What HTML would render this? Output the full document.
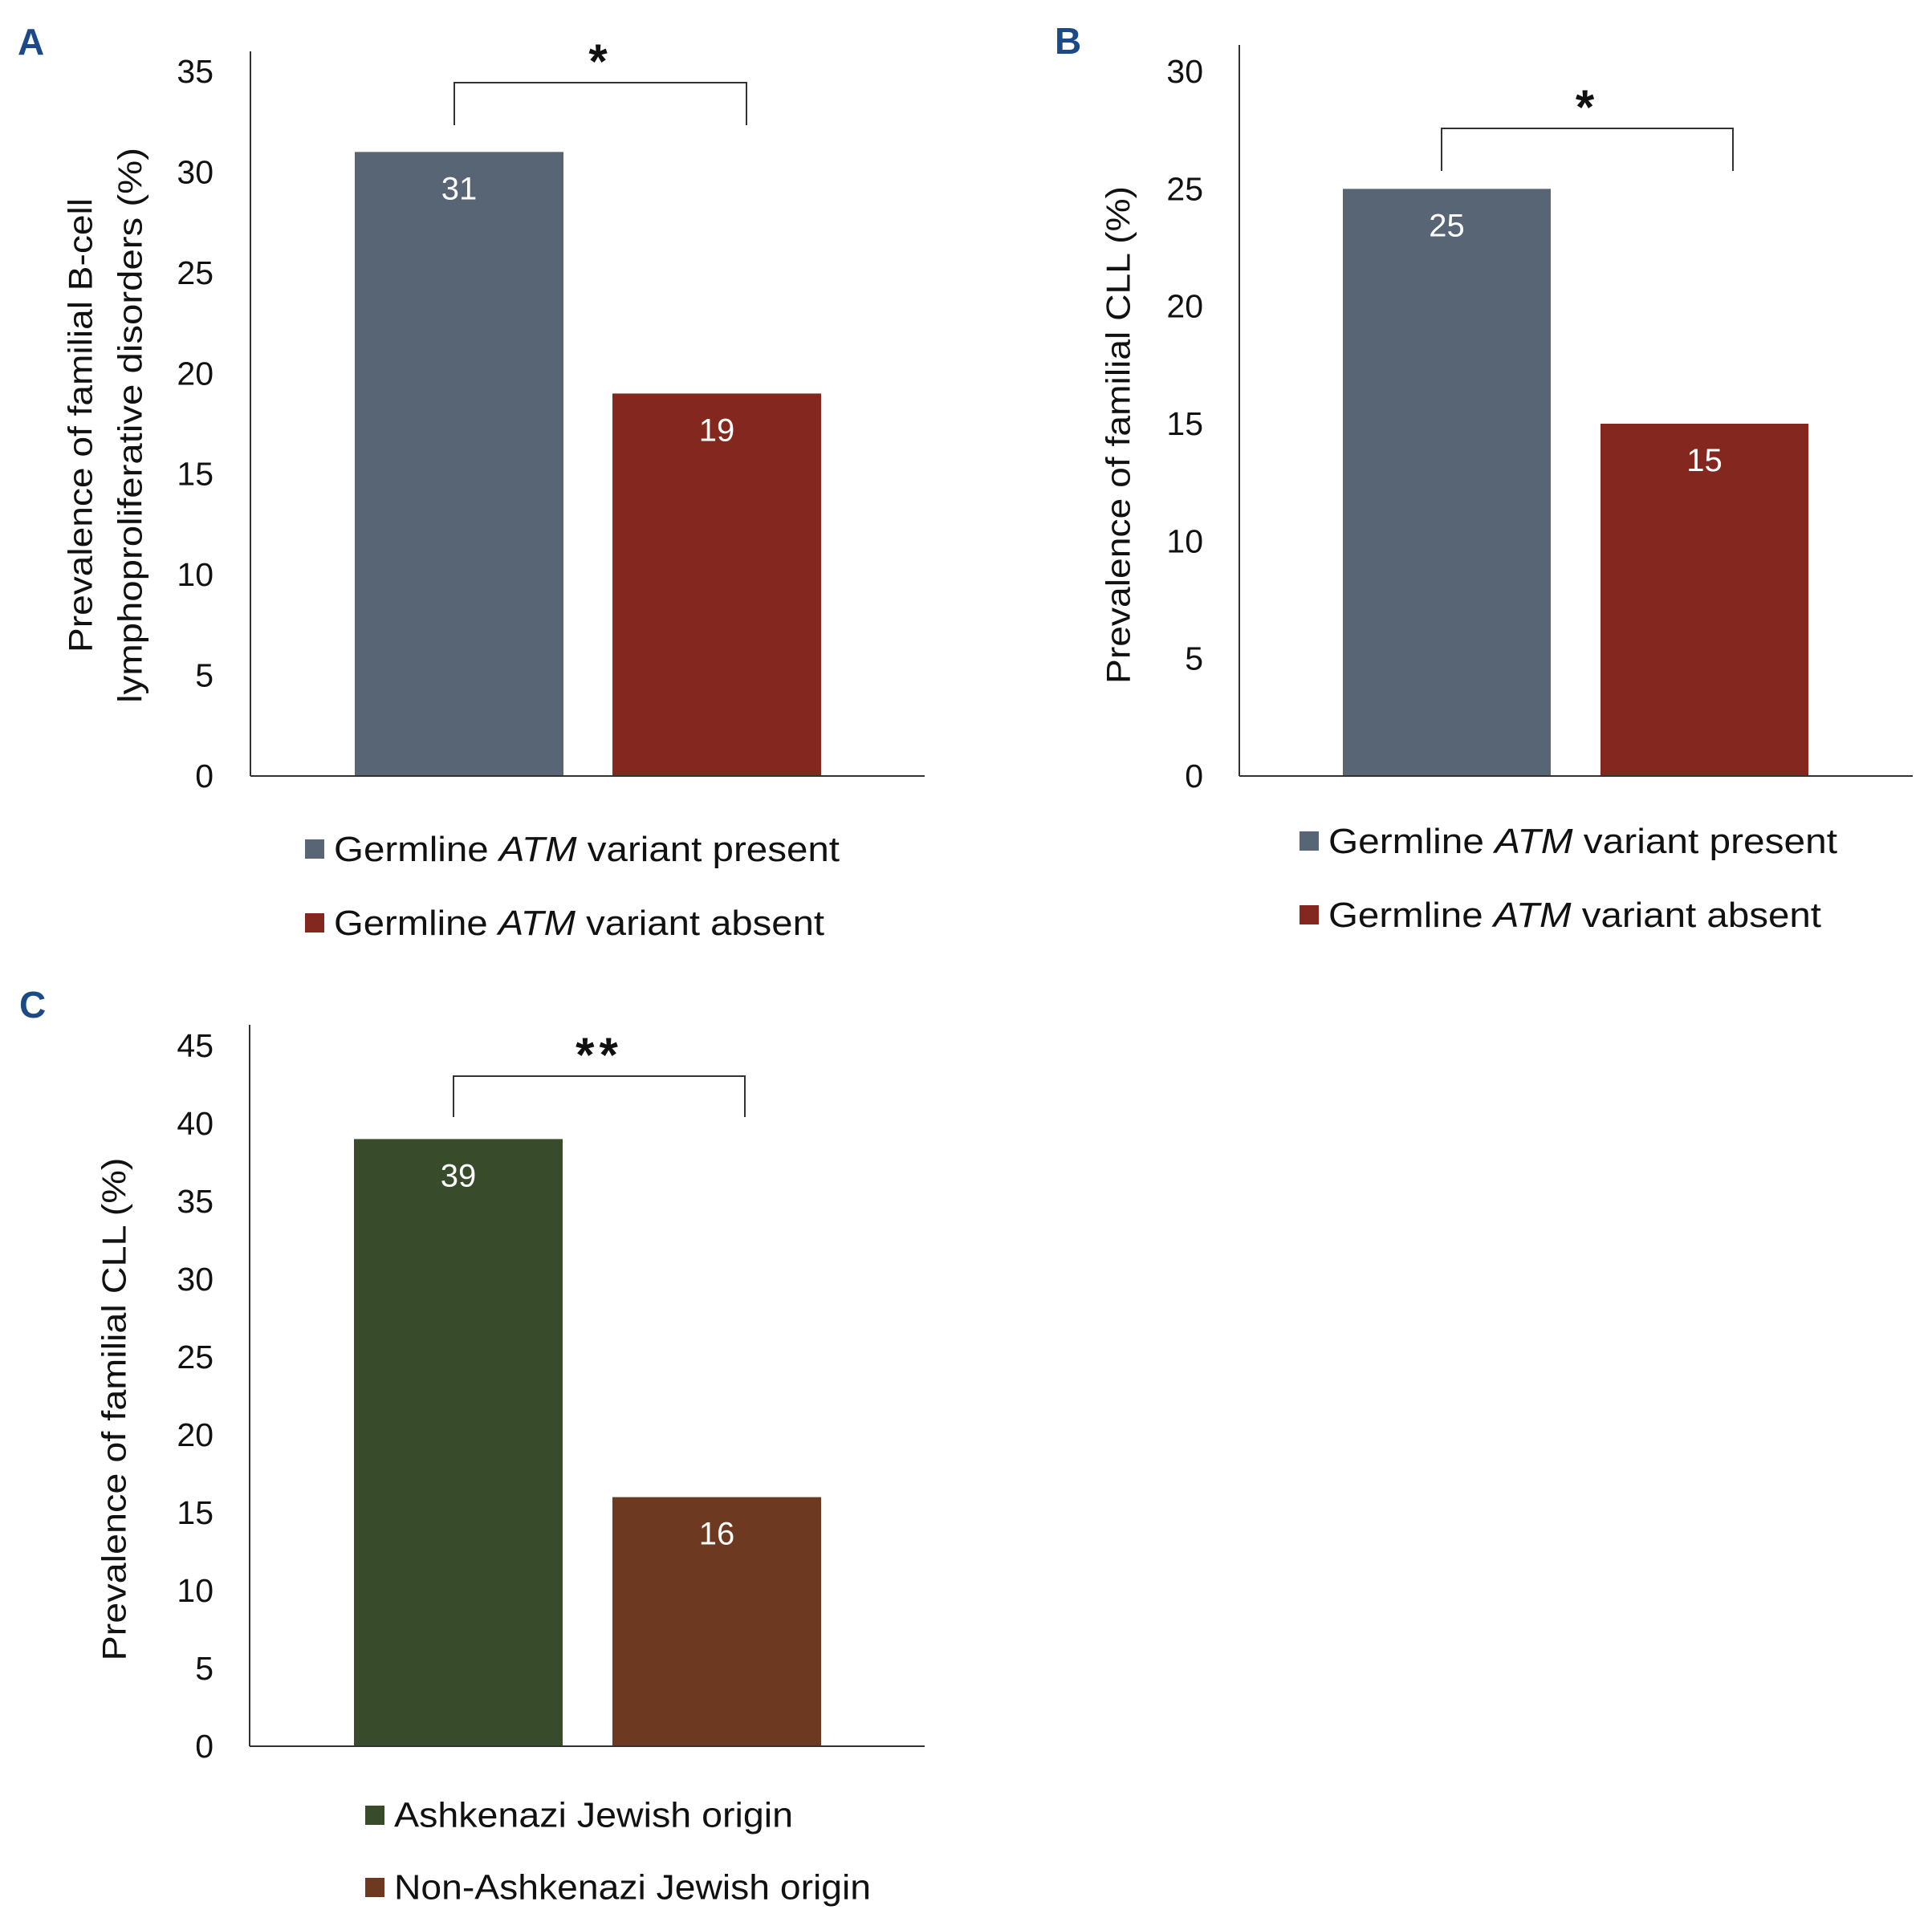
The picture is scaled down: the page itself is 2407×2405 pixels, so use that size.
<!DOCTYPE html>
<html><head><meta charset="utf-8"><style>
html,body{margin:0;padding:0;background:#fff;}
svg{display:block;font-family:"Liberation Sans",sans-serif;}
</style></head><body>
<svg id="fig" width="2407" height="2405" viewBox="0 0 2407 2405" xmlns="http://www.w3.org/2000/svg"></svg>
<script>
// Panel A data
const catsA = ["Germline ATM variant present", "Germline ATM variant absent"];
const valsA = [31, 19];
const ticksA = [0, 5, 10, 15, 20, 25, 30, 35];
// Panel B data
const catsB = ["Germline ATM variant present", "Germline ATM variant absent"];
const valsB = [25, 15];
const ticksB = [0, 5, 10, 15, 20, 25, 30];
// Panel C data
const catsC = ["Ashkenazi Jewish origin", "Non-Ashkenazi Jewish origin"];
const valsC = [39, 16];
const ticksC = [0, 5, 10, 15, 20, 25, 30, 35, 40, 45];

const NS = "http://www.w3.org/2000/svg";
const svg = document.getElementById('fig');
function mk(tag, attrs, parent, text) {
  const e = document.createElementNS(NS, tag);
  for (const k in attrs) e.setAttribute(k, attrs[k]);
  if (text !== undefined) e.textContent = text;
  (parent || svg).appendChild(e);
  return e;
}

function panel(p) {
  const g = mk('g', {});
  
  
  const ymax = p.ticks[p.ticks.length - 1];
  const y = v => p.y0 - (v / ymax) * (p.y0 - p.yTop);
  const lab = mk('text', {x: p.lx, y: p.ly, 'font-size': 46, 'font-weight': 'bold', fill: '#1b4a86', 'dominant-baseline': 'central'}, g, p.id);
  
  
  const ya = mk('line', {x1: p.ax, x2: p.ax, y1: p.axTop, y2: p.y0, stroke: '#333', 'stroke-width': 2}, g);
  
  
  p.ticks.forEach(t => {
    const tl = mk('text', {x: p.tx, y: y(t), 'font-size': 41, fill: '#111', 'text-anchor': 'end', 'dominant-baseline': 'central'}, g, String(t));
    
    
  });
  p.vals.forEach((v, i) => {
    const x0 = p.bx[i];
    const r = mk('rect', {x: x0, y: y(v), width: p.bw, height: p.y0 - y(v), fill: p.colors[i]}, g);
    
    
    const vl = mk('text', {x: x0 + p.bw / 2, y: y(v) + 46, 'font-size': 40, fill: '#fff', 'text-anchor': 'middle', 'dominant-baseline': 'central'}, g, String(v));
    
    
  });
  const xa = mk('line', {x1: p.ax, x2: p.axEnd, y1: p.y0, y2: p.y0, stroke: '#333', 'stroke-width': 2}, g);
  
  
  const br = mk('path', {d: `M${p.brx[0]},${p.bry[1]} V${p.bry[0]} H${p.brx[1]} V${p.bry[1]}`, fill: 'none', stroke: '#333', 'stroke-width': 2}, g);
  
  
  const st = mk('text', {x: (p.brx[0] + p.brx[1]) / 2, y: p.bry[0] - 6, 'font-size': 60, 'font-weight': 'bold', fill: '#111', 'text-anchor': 'middle', 'letter-spacing': 6}, g, p.star);
  
  
  p.title.forEach((line, i) => {
    const t = mk('text', {x: 0, y: 0, transform: `translate(${p.titleX[i]},${p.titleY}) rotate(-90)`, 'font-size': 42, fill: '#111', 'text-anchor': 'middle', 'dominant-baseline': 'central', textLength: p.titleLen[i], lengthAdjust: 'spacingAndGlyphs'}, g, line);
    
    
  });
  p.cats.forEach((c, i) => {
    const ly = p.legY[i];
    const sq = mk('rect', {x: p.legX, y: ly - 12, width: 24, height: 24, fill: p.colors[i]}, g);
    
    
    const t = mk('text', {x: p.legX + 36, y: ly, 'font-size': 44, fill: '#111', 'dominant-baseline': 'central', textLength: p.legLen[i], lengthAdjust: 'spacingAndGlyphs'}, g);
    
    
    if (c.indexOf('ATM') >= 0) {
      const parts = c.split('ATM');
      mk('tspan', {}, t, parts[0]);
      mk('tspan', {'font-style': 'italic'}, t, 'ATM');
      mk('tspan', {}, t, parts[1]);
    } else t.textContent = c;
  });
}

panel({id: 'A', lx: 22, ly: 52, ax: 312, axTop: 64, axEnd: 1152, y0: 967, yTop: 89, tx: 266,
  ticks: ticksA, vals: valsA, cats: catsA, bx: [442, 763], bw: 260, colors: ['#586574', '#84271f'],
  brx: [566, 930], bry: [103, 156], star: '*',
  title: ['Prevalence of familial B-cell', 'lymphoproliferative disorders (%)'], titleX: [100, 162], titleY: 530, titleLen: [566, 692],
  legX: 380, legY: [1058, 1150], legLen: [630, 611]});

panel({id: 'B', lx: 1314, ly: 51, ax: 1544, axTop: 56, axEnd: 2383, y0: 967, yTop: 89, tx: 1499,
  ticks: ticksB, vals: valsB, cats: catsB, bx: [1673, 1994], bw: 259, colors: ['#586574', '#84271f'],
  brx: [1796, 2159], bry: [160, 213], star: '*',
  title: ['Prevalence of familial CLL (%)'], titleX: [1393], titleY: 542, titleLen: [620],
  legX: 1619, legY: [1048, 1140], legLen: [634, 614]});

panel({id: 'C', lx: 24, ly: 1252, ax: 311, axTop: 1277, axEnd: 1152, y0: 2176, yTop: 1303, tx: 266,
  ticks: ticksC, vals: valsC, cats: catsC, bx: [441, 763], bw: 260, colors: ['#384b2b', '#6d3920'],
  brx: [565, 928], bry: [1341, 1392], star: '**',
  title: ['Prevalence of familial CLL (%)'], titleX: [142], titleY: 1756, titleLen: [627],
  legX: 455, legY: [2262, 2352], legLen: [497, 594]});
</script>
</body></html>
